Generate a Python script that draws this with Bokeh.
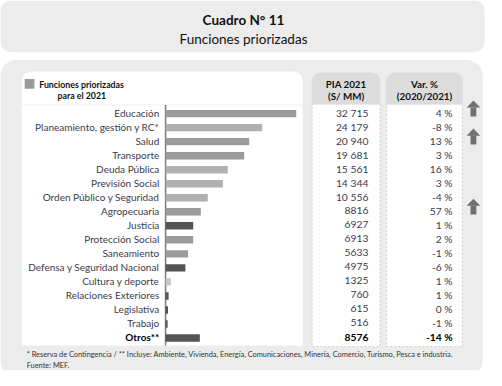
from bokeh.plotting import figure
from bokeh.models import Range1d, BoxAnnotation, ColumnDataSource
from bokeh.core.properties import value
from bokeh.embed import file_html
from bokeh.resources import INLINE

# ---------------- data ----------------
categories = ["Educación", "Planeamiento, gestión y RC*", "Salud", "Transporte",
              "Deuda Pública", "Previsión Social", "Orden Público y Seguridad",
              "Agropecuaria", "Justicia", "Protección Social", "Saneamiento",
              "Defensa y Seguridad Nacional", "Cultura y deporte",
              "Relaciones Exteriores", "Legislativa", "Trabajo", "Otros**"]
pia_2021 = [32715, 24179, 20940, 19681, 15561, 14344, 10556, 8816, 6927,
            6913, 5633, 4975, 1325, 760, 615, 516, 8576]
var_pct = [4, -8, 13, 3, 16, 3, -4, 57, 1, 2, -1, -6, 1, 1, 0, -1, -14]
tones = ["mid", "light", "mid", "mid", "light", "light", "light", "mid", "dark",
         "mid", "mid", "dark", "pale", "dark", "dark", "dark", "dark"]
arrow_rows = ["Educación", "Salud", "Agropecuaria"]

title = "Cuadro N° 11"
subtitle = "Funciones priorizadas"
legend_lines = ["Funciones priorizadas", "para el 2021"]
col1_head = ["PIA 2021", "(S/ MM)"]
col2_head = ["Var. %", "(2020/2021)"]
footnote = ("* Reserva de Contingencia / ** Incluye: Ambiente, Vivienda, Energía, "
            "Comunicaciones, Minería, Comercio, Turismo, Pesca e industria.")
source_note = "Fuente: MEF."

# ---------------- styles ----------------
FONT = value("Lato")
tone_colors = {"mid": "#9b9b9b", "light": "#b0b0b0", "pale": "#c6c6c6", "dark": "#555555"}
TXT = "#3b3b4b"
PANEL = "#ececec"
HEAD = "#dcdcdc"

# layout geometry in reference-picture pixels, squeezed into the figure
W, H = 486, 370
X0, X1, Y0, Y1 = 0, 502, 0, 386
AXIS_X = 170.5             # where value 0 sits
PX_PER_UNIT = 135 / 32715  # bar scale
ROW0, ROW_STEP = 118.0, 14.63

n = len(categories)
rows = list(range(n))
last = n - 1


def fmt_pia(v):
    return f"{v:,}".replace(",", " ") if v >= 10000 else str(v)


src = ColumnDataSource(dict(
    row=rows,
    trow=[r - 0.07 for r in rows],
    cat=categories,
    pia=pia_2021,
    pia_txt=[fmt_pia(v) for v in pia_2021],
    var_txt=[f"{v} %" for v in var_pct],
    color=[tone_colors[t] for t in tones],
    tcolor=[("#000000" if i == last else TXT) for i in rows],
    tstyle=[("bold" if i == last else "normal") for i in rows],
))

p = figure(width=W, height=H,
           x_range=Range1d(X0, X1), y_range=Range1d(Y1, Y0),
           x_axis_location=None, y_axis_location=None,
           toolbar_location=None, output_backend="svg",
           min_border=0, outline_line_color=None,
           background_fill_color="white", border_fill_color="white")
p.grid.visible = False

# value scale and row scale for the bars
p.extra_x_ranges = {"val": Range1d((X0 - AXIS_X) / PX_PER_UNIT, (X1 - AXIS_X) / PX_PER_UNIT)}
p.extra_y_ranges = {"rows": Range1d((Y1 - ROW0) / ROW_STEP, (Y0 - ROW0) / ROW_STEP)}

# ---------------- panels ----------------
p.add_layout(BoxAnnotation(left=0, right=500, top=0, bottom=54, fill_color=PANEL,
                           fill_alpha=1, line_color=None, border_radius=10, level="underlay"))
p.add_layout(BoxAnnotation(left=0, right=498, top=62, bottom=392, fill_color=PANEL,
                           fill_alpha=1, line_color=None, border_radius=16, level="underlay"))
p.add_layout(BoxAnnotation(left=22, right=312, top=74, bottom=360, fill_color="white",
                           fill_alpha=1, line_color=None, border_radius=(9, 9, 0, 0),
                           level="underlay"))
for l, r in [(322, 392), (399, 477)]:
    p.add_layout(BoxAnnotation(left=l, right=r, top=108, bottom=361, fill_color="white",
                               fill_alpha=1, line_color="#808080", line_width=1,
                               line_dash="2 2", level="underlay"))
    p.add_layout(BoxAnnotation(left=l - 0.5, right=r + 0.5, top=75, bottom=108.5,
                               fill_color=HEAD, fill_alpha=1, line_color=None,
                               border_radius=(9, 9, 0, 0), level="underlay"))

# titles
p.text(x=[251], y=[20], text=[title], text_font=FONT, text_font_size=value("13.5px"),
       text_font_style="bold", text_color="#111111", text_align="center", text_baseline="middle")
p.text(x=[251], y=[40], text=[subtitle], text_font=FONT, text_font_size=value("13.5px"),
       text_color="#111111", text_align="center", text_baseline="middle")

# legend
p.quad(left=[25], right=[35], top=[82], bottom=[92], fill_color="#9b9b9b", line_color=None)
p.text(x=[40], y=[87.5], text=[legend_lines[0]], text_font=FONT, text_font_size=value("8.8px"),
       text_font_style="bold", text_color="#111111", text_align="left", text_baseline="middle")
p.text(x=[84], y=[99.5], text=[legend_lines[1]], text_font=FONT, text_font_size=value("8.8px"),
       text_font_style="bold", text_color="#111111", text_align="center", text_baseline="middle")
p.segment(x0=[22], x1=[312], y0=[109], y1=[109], line_color="#f0f0f0", line_width=1)

# column headers
for cx, lines in [(357, col1_head), (438, col2_head)]:
    p.text(x=[cx, cx], y=[87, 100], text=lines, text_font=FONT, text_font_size=value("9.8px"),
           text_font_style="bold", text_color="#111111", text_align="center",
           text_baseline="middle")

# ---------------- bars ----------------
p.segment(x0=[AXIS_X], x1=[AXIS_X], y0=[109], y1=[360], line_color="#7a7a7a", line_width=1.5)
p.hbar(y="row", left=0, right="pia", height=0.53, fill_color="color", line_color=None,
       source=src, x_range_name="val", y_range_name="rows")

# category labels
p.text(x=164, y="trow", text="cat", source=src, y_range_name="rows",
       text_font=FONT, text_font_size=value("10px"), text_color="tcolor",
       text_font_style="tstyle", text_align="right", text_baseline="middle")
# values
p.text(x=380, y="trow", text="pia_txt", source=src, y_range_name="rows",
       text_font=FONT, text_font_size=value("10.3px"), text_color="tcolor",
       text_font_style="tstyle", text_align="right", text_baseline="middle")
p.text(x=467, y="trow", text="var_txt", source=src, y_range_name="rows",
       text_font=FONT, text_font_size=value("10.3px"), text_color="tcolor",
       text_font_style="tstyle", text_align="right", text_baseline="middle")

# up arrows
arrow_r = [categories.index(c) for c in arrow_rows]
p.patches(xs=[[481.5, 495.5, 488.5] for _ in arrow_r],
          ys=[[r - 0.43, r - 0.43, r - 0.93] for r in arrow_r],
          fill_color="#707070", line_color=None, y_range_name="rows")
p.quad(left=[485.5] * len(arrow_r), right=[491.5] * len(arrow_r),
       top=[r - 0.44 for r in arrow_r], bottom=[r + 0.2 for r in arrow_r],
       fill_color="#707070", line_color=None, y_range_name="rows")

# footnotes
p.text(x=[27, 27], y=[369, 381], text=[footnote, source_note], text_font=FONT,
       text_font_size=value("7.4px"), text_color="#333333", text_align="left",
       text_baseline="middle")

open("out.html", "w").write(file_html(p, INLINE))
